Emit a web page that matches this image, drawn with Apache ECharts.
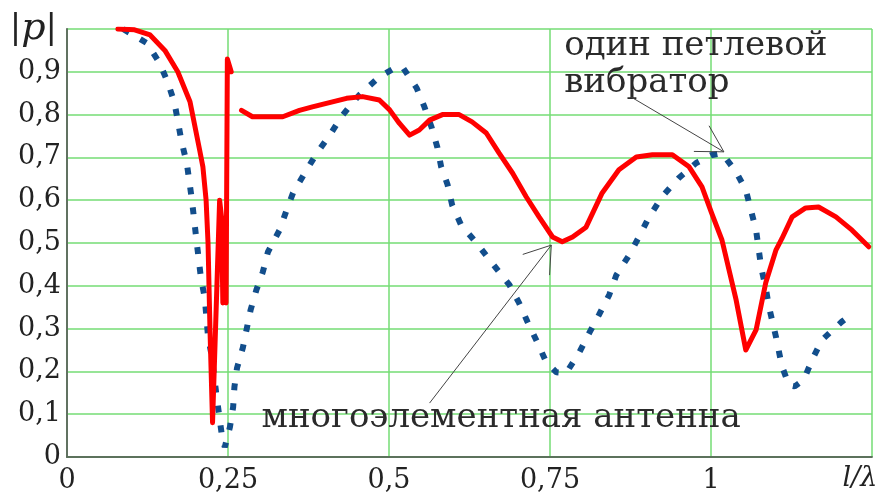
<!DOCTYPE html>
<html><head><meta charset="utf-8">
<script src="https://cdn.jsdelivr.net/npm/echarts@6/dist/echarts.min.js"></script>
<style>html,body{margin:0;padding:0;background:#fff}#c{width:889px;height:494px}</style>
</head><body><div id="c"></div>
<script>
// multi-element antenna (red, solid)
const xMulti = [0.079,0.105,0.129,0.152,0.172,0.191,0.206,0.211,0.216,0.219,0.222,0.226,0.237,0.240,0.242,0.245,0.247,0.249,0.255,0.262,0.271,0.288,0.335,0.361,0.381,0.434,0.459,0.485,0.501,0.516,0.532,0.547,0.563,0.583,0.609,0.629,0.651,0.671,0.692,0.713,0.733,0.754,0.769,0.785,0.806,0.831,0.857,0.884,0.909,0.940,0.966,0.986,1.001,1.017,1.039,1.054,1.070,1.085,1.101,1.110,1.126,1.147,1.167,1.194,1.219,1.245];
const yMulti = [1.0,0.998,0.986,0.95,0.90,0.83,0.717,0.678,0.60,0.50,0.30,0.08,0.60,0.56,0.36,0.55,0.36,0.93,0.90,'-',0.81,0.795,0.795,0.81,0.818,0.838,0.842,0.834,0.811,0.78,0.752,0.764,0.787,0.80,0.80,0.783,0.757,0.71,0.663,0.608,0.561,0.514,0.503,0.514,0.537,0.617,0.671,0.701,0.706,0.706,0.678,0.631,0.57,0.507,0.367,0.25,0.297,0.407,0.484,0.51,0.561,0.582,0.584,0.561,0.53,0.491];
// single loop vibrator (blue, dotted)
const xLoop = [0.087,0.124,0.144,0.157,0.167,0.178,0.186,0.194,0.201,0.208,0.214,0.219,0.225,0.232,0.240,0.245,0.253,0.258,0.260,0.264,0.273,0.279,0.285,0.294,0.304,0.312,0.330,0.341,0.351,0.369,0.388,0.408,0.428,0.454,0.485,0.510,0.521,0.543,0.555,0.566,0.575,0.581,0.591,0.598,0.612,0.636,0.660,0.687,0.702,0.715,0.730,0.744,0.760,0.775,0.795,0.811,0.826,0.842,0.853,0.873,0.888,0.904,0.924,0.950,0.977,1.000,1.017,1.039,1.054,1.062,1.070,1.078,1.085,1.090,1.101,1.110,1.121,1.130,1.144,1.157,1.172,1.203,1.211];
const yLoop = [1.0,0.967,0.92,0.873,0.827,0.736,0.687,0.60,0.507,0.418,0.371,0.281,0.234,0.145,0.056,0.023,0.07,0.117,0.164,0.208,0.255,0.299,0.343,0.39,0.432,0.479,0.53,0.577,0.617,0.663,0.71,0.752,0.799,0.846,0.888,0.91,0.911,0.862,0.818,0.771,0.724,0.678,0.636,0.589,0.542,0.50,0.453,0.402,0.36,0.316,0.269,0.222,0.198,0.196,0.243,0.29,0.332,0.379,0.425,0.472,0.514,0.561,0.608,0.652,0.687,0.705,0.710,0.666,0.624,0.577,0.530,0.442,0.395,0.351,0.28,0.213,0.168,0.165,0.18,0.227,0.273,0.316,0.325];

const xTickLabels = ['0','0,25','0,5','0,75','1',''];
const yTickLabels = ['0','0,1','0,2','0,3','0,4','0,5','0,6','0,7','0,8','0,9',''];
const xAxisTitle = 'l/λ';
const yAxisTitle = '|{i|p}|';

const labelLoop = ['один петлевой','вибратор'];
const labelMulti = 'многоэлементная антенна';
// annotation anchors in data coordinates
const loopText1At = [0.772, 0.959];
const loopText2At = [0.772, 0.873];
const multiTextAt = [0.302, 0.091];
const loopArrow = {from:[0.876,0.841], to:[1.020,0.713]};
const multiArrow = {from:[0.563,0.126], to:[0.752,0.495]};

const FONT = 'DejaVu Serif';
const chart = echarts.init(document.getElementById('c'), null, {renderer:'canvas'});
const grid = {left:67, right:17, top:29, bottom:37};
const green = '#74dd74';
chart.setOption({
  backgroundColor:'#fff',
  animation:false,
  grid,
  xAxis:[{
    type:'value', min:0, max:1.25, interval:0.25,
    axisLine:{show:true, onZero:false, lineStyle:{color:'#555', width:1.5}},
    axisTick:{show:false},
    splitLine:{show:true, lineStyle:{color:green, width:1.5}},
    axisLabel:{fontFamily:FONT, fontSize:27, color:'#222', margin:10,
      formatter:v=>xTickLabels[Math.round(v/0.25)] ?? ''},
    name:xAxisTitle, nameLocation:'end', nameGap:-12,
    nameTextStyle:{fontFamily:FONT, fontStyle:'italic', fontSize:27, color:'#222', align:'center', verticalAlign:'top', padding:[8,0,0,0]}
  },{
    type:'value', min:0, max:1.25, position:'top', z:5,
    axisLine:{show:true, lineStyle:{color:'#5a705a', width:1.5}},
    axisTick:{show:false}, axisLabel:{show:false}, splitLine:{show:false}
  }],
  yAxis:[{
    type:'value', min:0, max:1, interval:0.1,
    axisLine:{show:true, lineStyle:{color:'#777', width:2}},
    axisTick:{show:false},
    splitLine:{show:true, lineStyle:{color:green, width:1.5}},
    axisLabel:{fontFamily:FONT, fontSize:27, color:'#222', margin:6,
      formatter:v=>yTickLabels[Math.round(v*10)] ?? ''},
    name:yAxisTitle, nameLocation:'end', nameGap:0,
    nameTextStyle:{fontFamily:FONT, fontSize:34, color:'#222', align:'right', verticalAlign:'middle', padding:[0,10,0,0],
      rich:{i:{fontFamily:FONT, fontSize:38, fontStyle:'italic', color:'#222'}}}
  },{
    type:'value', min:0, max:1, position:'right', z:5,
    axisLine:{show:true, lineStyle:{color:'#5a705a', width:1.5}},
    axisTick:{show:false}, axisLabel:{show:false}, splitLine:{show:false}
  }],
  series:[{
    type:'line', name:labelLoop.join(' '), showSymbol:false, z:3,
    data:xLoop.map((x,i)=>[x,yLoop[i]]),
    lineStyle:{color:'#124e8c', width:6, type:[7,13], cap:'butt'}
  },{
    type:'line', name:labelMulti, showSymbol:false, z:4, connectNulls:false,
    data:xMulti.map((x,i)=>[x,yMulti[i]]),
    lineStyle:{color:'#ff0000', width:5, join:'round', cap:'round'}
  }]
});

function px(p){ return chart.convertToPixel({xAxisIndex:0, yAxisIndex:0}, p); }
function arrow(a, spread, len){
  const f = px(a.from), t = px(a.to);
  const ang = Math.atan2(f[1]-t[1], f[0]-t[0]);
  const h1 = [t[0]+len*Math.cos(ang+spread), t[1]+len*Math.sin(ang+spread)];
  const h2 = [t[0]+len*Math.cos(ang-spread), t[1]+len*Math.sin(ang-spread)];
  const st = {stroke:'#444', lineWidth:1, fill:null};
  return [
    {type:'polyline', shape:{points:[f,t]}, style:st, z:10},
    {type:'polyline', shape:{points:[h1,t,h2]}, style:st, z:10}
  ];
}
function txt(s, at, size){
  const p = px(at);
  return {type:'text', x:p[0], y:p[1], z:10,
    style:{text:s, fontFamily:FONT, fontSize:size, fill:'#2a2a2a', align:'left', verticalAlign:'middle', textAlign:'left', textVerticalAlign:'middle'}};
}
chart.setOption({graphic:[
  txt(labelLoop[0], loopText1At, 34),
  txt(labelLoop[1], loopText2At, 34),
  txt(labelMulti, multiTextAt, 34),
  ...arrow(loopArrow, 0.52, 30),
  ...arrow(multiArrow, 0.6, 30)
]});
</script></body></html>
